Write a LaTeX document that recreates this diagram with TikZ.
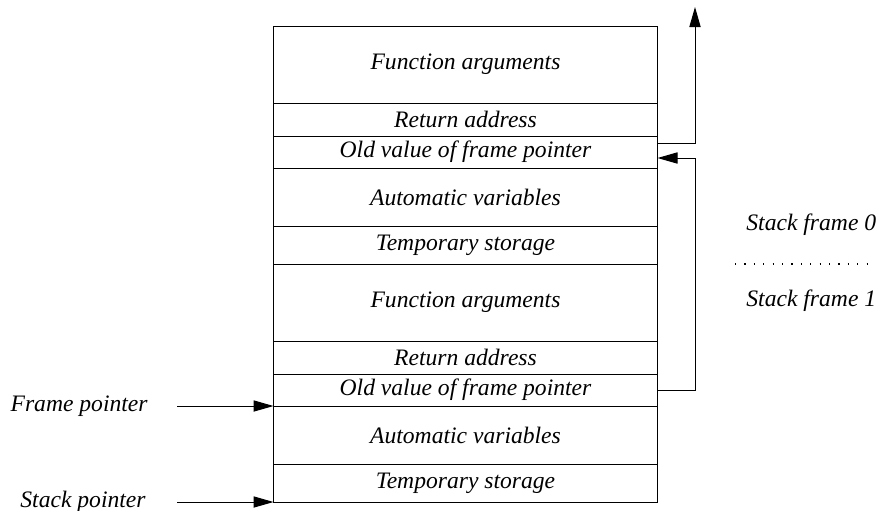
\documentclass[tikz,border=0pt]{standalone}
\usepackage{fontspec}
\setmainfont{Liberation Serif}
\usetikzlibrary{arrows.meta,positioning}

\begin{document}
\begin{tikzpicture}[x=0.5pt,y=-0.5pt,
      row_box/.style={
         draw=black,
         line width=0.5pt,
         minimum width=192pt,
         inner sep=0pt,
         outer sep=0pt,
         font=\fontsize{11.8}{14}\selectfont\itshape},
      args_row/.style={row_box, minimum height=38.5pt},
      ret_row/.style={row_box, minimum height=16.5pt},
      fp_row/.style={row_box, minimum height=16pt},
      auto_row/.style={row_box, minimum height=29pt},
      tmp_row/.style={row_box, minimum height=19pt},
      side_txt/.style={
         inner sep=0pt,
         font=\fontsize{11.8}{14}\selectfont\itshape},
      arrow_black/.style={
        -{Triangle[length=10pt,width=5.6pt]},
        line width=0.5pt,
        },
      frame_sep/.style={
        line width=0.6pt,
        dash pattern=on 0.6pt off 4.1pt,
        }
]
      \useasboundingbox (0,0) rectangle (878,510);

      %stack frame 0
      \node[args_row] (args0) at (465.5,64.5) {Function arguments};
      \node[ret_row,below=0pt of args0] (ret0) {Return address};
      \node[fp_row,below=0pt of ret0] (fp0) {Old value of frame pointer};
      \node[auto_row,below=0pt of fp0] (auto0) {Automatic variables};
      \node[tmp_row,below=0pt of auto0] (tmp0) {Temporary storage};

      %stack frame 1
      \node[args_row,below=0pt of tmp0] (args1) {Function arguments};
      \node[ret_row,below=0pt of args1] (ret1) {Return address};
      \node[fp_row,below=0pt of ret1] (fp1) {Old value of frame pointer};
      \node[auto_row,below=0pt of fp1] (auto1) {Automatic variables};
      \node[tmp_row,below=0pt of auto1] (tmp1) {Temporary storage};

      %pointers
      \node[side_txt,anchor=base east] (fp_lbl) at (148,411.5) {Frame pointer};
      \node[side_txt,anchor=base east] (sp_lbl) at (146,507) {Stack pointer};
      \draw[arrow_black] ([xshift=14.5pt]fp_lbl.east |- fp1.south west) -- (fp1.south west);
      \draw[arrow_black] ([xshift=15.5pt]sp_lbl.east |- tmp1.south west) -- (tmp1.south west);

      %frame links
      \coordinate (up_end) at (695,7);
      \draw[arrow_black] ([yshift=4.5pt]fp0.east) -| (up_end);
      \draw[arrow_black] (fp1.east) -- ++(38,0) |- ([yshift=-3pt]fp0.east);

      %frame names
      \node[side_txt,anchor=base west] (sf0) at (746,230) {Stack frame 0};
      \node[side_txt,anchor=base west] (sf1) at (746,306.5) {Stack frame 1};
      \draw[frame_sep] (735,264) -- (872,264);
\end{tikzpicture}
\end{document}
